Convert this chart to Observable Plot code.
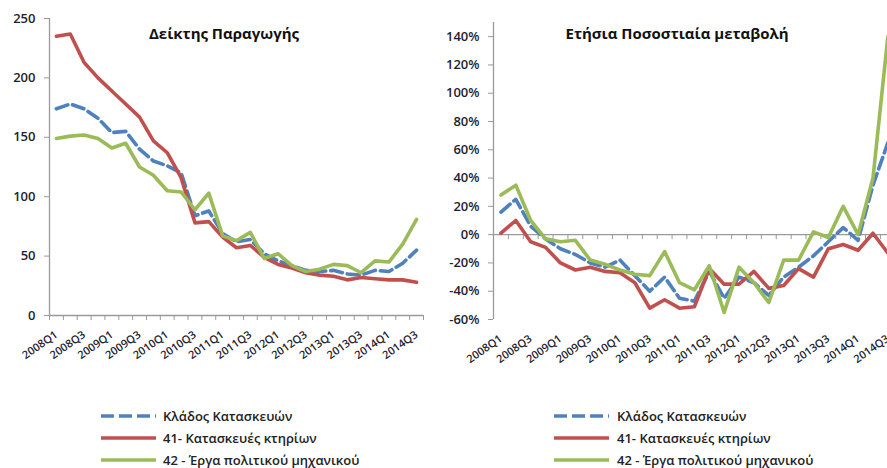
<!DOCTYPE html>
<html><head><meta charset="utf-8">
<script src="https://cdn.jsdelivr.net/npm/d3@7"></script>
<script src="https://cdn.jsdelivr.net/npm/@observablehq/plot@0.6"></script>
<style>
html,body{margin:0;padding:0;background:#fff;}
body{width:887px;height:468px;overflow:hidden;position:relative;font-family:"Open Sans",sans-serif;}
.panel{position:absolute;top:0;}
.panel svg{max-width:none !important;}
.title{position:absolute;font-weight:700;font-size:15px;color:#111;transform:translate(-50%,-50%);white-space:nowrap;}
.item{position:absolute;white-space:nowrap;font-size:13px;font-weight:600;color:#222;transform:translateY(-50%);line-height:15px;}
.sample{position:absolute;}
</style></head><body>
<div id="left" class="panel" style="left:0;width:440px"></div>
<div id="right" class="panel" style="left:440px;width:460px"></div>
<div class="title" style="left:224px;top:33px">Δείκτης Παραγωγής</div>
<div class="title" style="left:677px;top:33px">Ετήσια Ποσοστιαία μεταβολή</div>
<div id="legends"></div>
<script>
const quarters = ["2008Q1","2008Q2","2008Q3","2008Q4","2009Q1","2009Q2","2009Q3","2009Q4",
  "2010Q1","2010Q2","2010Q3","2010Q4","2011Q1","2011Q2","2011Q3","2011Q4",
  "2012Q1","2012Q2","2012Q3","2012Q4","2013Q1","2013Q2","2013Q3","2013Q4",
  "2014Q1","2014Q2","2014Q3"];
const labelQuarters = ["2008Q1","2008Q3","2009Q1","2009Q3","2010Q1","2010Q3","2011Q1",
  "2011Q3","2012Q1","2012Q3","2013Q1","2013Q3","2014Q1","2014Q3"];

const seriesNames = ["Κλάδος Κατασκευών","41- Κατασκευές κτηρίων","42 - Έργα πολιτικού μηχανικού"];

// Δείκτης Παραγωγής
const indexTotal = [174,178,174,166,154,155,140,130,126,120,84,88,69,62,64,52,46,42,38,37,38,35,34,38,37,44,55];
const indexBuildings = [235,237,213,200,189,178,167,147,137,116,78,79,66,57,59,49,43,40,36,34,33,30,32,31,30,30,28];
const indexCivil = [149,151,152,149,141,145,125,118,105,104,89,103,67,63,70,48,52,42,37,39,43,42,36,46,45,60,81];

// Ετήσια Ποσοστιαία μεταβολή (%)
const changeTotal = [16,25,6,-3,-10,-14,-20,-23,-18,-29,-40,-30,-45,-47,-26,-45,-30,-34,-43,-30,-23,-15,-5,5,-4,35,65];
const changeBuildings = [1,10,-5,-9,-20,-25,-23,-26,-27,-34,-52,-46,-52,-51,-24,-35,-35,-26,-38,-36,-24,-30,-10,-7,-11,1,-13];
const changeCivil = [28,35,10,-3,-5,-4,-18,-21,-25,-28,-29,-12,-34,-39,-22,-55,-23,-34,-48,-18,-18,2,-2,20,0,40,140];

const indexTicks = [0,50,100,150,200,250];
const changeTicks = [-60,-40,-20,0,20,40,60,80,100,120,140];

const AXIS = "#9a9a9a", TEXT = "#1e1e2e";
const styles = [
  {color: "#4F81BD", dash: "12,5"},
  {color: "#C0504D", dash: null},
  {color: "#9BBB59", dash: null}
];

function panel({sets, yDomain, yTicks, yFormat, width, height, ml, mr, mt, mb}) {
  const step = (width - ml - mr) / quarters.length;
  return Plot.plot({
    width, height, marginLeft: ml, marginRight: mr, marginTop: mt, marginBottom: mb,
    style: {fontFamily: "'Open Sans', sans-serif", fontWeight: 600, color: TEXT, background: "transparent"},
    x: {type: "point", domain: quarters, padding: 0.5, round: false, axis: null},
    y: {domain: yDomain, axis: null},
    marks: [
      Plot.ruleY([0], {stroke: AXIS, strokeWidth: 1.3}),
      Plot.ruleX([quarters[0]], {x: d => d, dx: -step / 2, stroke: AXIS, strokeWidth: 1.3}),
      Plot.ruleX(quarters, {x: d => d, y1: 0, y2: 0, insetBottom: -5, dx: -step / 2, stroke: AXIS}),
      Plot.ruleX([quarters[quarters.length - 1]], {x: d => d, y1: 0, y2: 0, insetBottom: -5, dx: step / 2, stroke: AXIS}),
      Plot.axisY({ticks: yTicks, tickFormat: yFormat, tickSize: 5, tickPadding: 9, stroke: AXIS, fill: TEXT, fontSize: 13, label: null}),
      Plot.axisX({ticks: labelQuarters, tickSize: 0, tickPadding: 18, tickRotate: -35, fill: TEXT, fontSize: 11, label: null}),
      ...sets.map((vals, k) => Plot.lineY(vals, {
        x: (d, i) => quarters[i], y: d => d,
        stroke: styles[k].color, strokeWidth: 3.6,
        strokeDasharray: styles[k].dash, strokeLinejoin: "round"
      }))
    ]
  });
}

document.getElementById("left").append(panel({
  sets: [indexTotal, indexBuildings, indexCivil],
  yDomain: [0, 250], yTicks: indexTicks, yFormat: d => String(d),
  width: 440, height: 375, ml: 49, mr: 17, mt: 18, mb: 60
}));
document.getElementById("right").append(panel({
  sets: [changeTotal, changeBuildings, changeCivil],
  yDomain: [-60, 150], yTicks: changeTicks, yFormat: d => d + "%",
  width: 460, height: 379, ml: 53, mr: 5.2, mt: 22, mb: 60
}));

// legends
const legendPos = [{x0: 100, tx: 163}, {x0: 553, tx: 617}];
const legendY = [416, 438, 460];
const lg = document.getElementById("legends");
legendPos.forEach(p => {
  seriesNames.forEach((name, k) => {
    const ns = "http://www.w3.org/2000/svg";
    const svg = document.createElementNS(ns, "svg");
    svg.setAttribute("class", "sample");
    svg.setAttribute("width", 58); svg.setAttribute("height", 8);
    svg.style.left = p.x0 + "px"; svg.style.top = (legendY[k] - 4) + "px";
    const ln = document.createElementNS(ns, "line");
    ln.setAttribute("x1", 1); ln.setAttribute("x2", 56);
    ln.setAttribute("y1", 4); ln.setAttribute("y2", 4);
    ln.setAttribute("stroke", styles[k].color); ln.setAttribute("stroke-width", 3.6);
    if (styles[k].dash) ln.setAttribute("stroke-dasharray", "13,5");
    svg.append(ln);
    lg.append(svg);
    const t = document.createElement("div");
    t.className = "item"; t.textContent = name;
    t.style.left = p.tx + "px"; t.style.top = legendY[k] + "px";
    lg.append(t);
  });
});
</script>
</body></html>
